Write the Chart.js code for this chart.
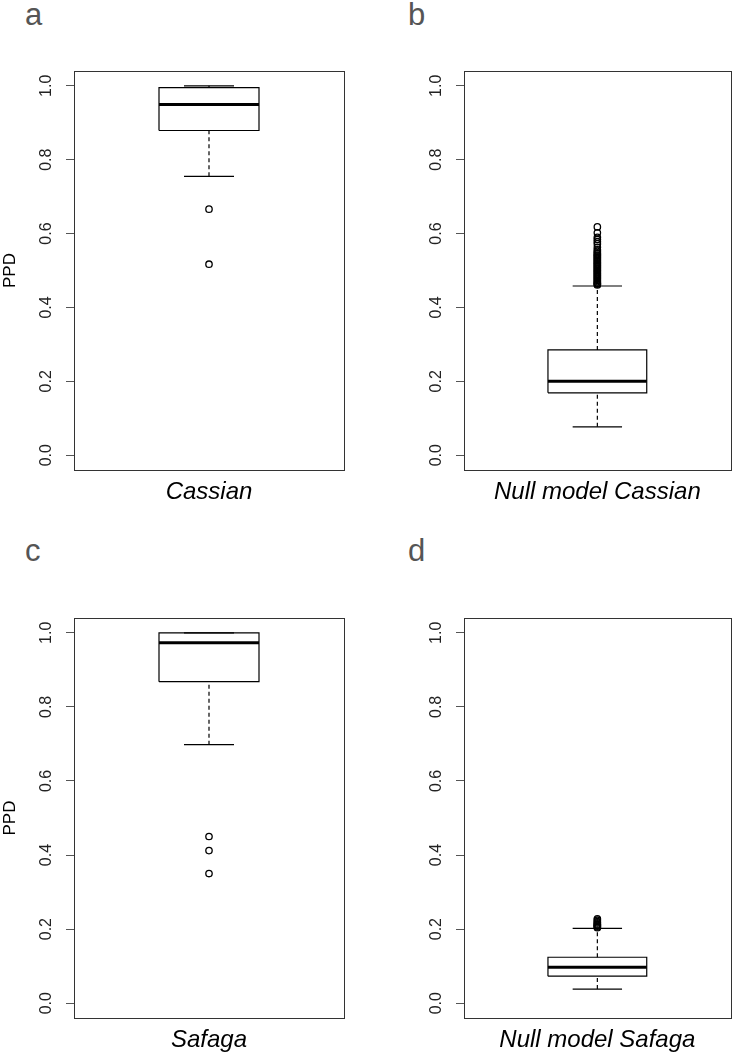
<!DOCTYPE html>
<html>
<head>
<meta charset="utf-8">
<script src="https://cdn.jsdelivr.net/npm/chart.js@4.4.1/dist/chart.umd.min.js"></script>
<style>
  html, body { margin: 0; padding: 0; background: #fff; }
  #wrap { position: relative; width: 736px; height: 1058px; }
  canvas { position: absolute; }
  .letter { position: absolute; font-family: 'Liberation Sans', Arial, sans-serif; font-size: 31px; line-height: 30px; color: #555; }
</style>
</head>
<body>
<div id="wrap">
  <div class="letter" style="left:25px;top:0px">a</div>
  <div class="letter" style="left:408px;top:0px">b</div>
  <div class="letter" style="left:25px;top:536px">c</div>
  <div class="letter" style="left:408px;top:536px">d</div>
  <canvas id="pa" width="368" height="529" style="left:0;top:0"></canvas>
  <canvas id="pb" width="368" height="529" style="left:368px;top:0"></canvas>
  <canvas id="pc" width="368" height="529" style="left:0;top:529px"></canvas>
  <canvas id="pd" width="368" height="529" style="left:368px;top:529px"></canvas>
</div>
<script>
// box plot summaries, one entry per panel (a, b, c, d)
const categories = ['Cassian', 'Null model Cassian', 'Safaga', 'Null model Safaga'];
const lowerWhisker = [0.755, 0.077, 0.698, 0.038];
const q1 = [0.879, 0.169, 0.868, 0.073];
const median = [0.949, 0.200, 0.973, 0.097];
const q3 = [0.995, 0.285, 1.0, 0.124];
const upperWhisker = [1.0, 0.458, 1.0, 0.202];

const outliersCassian = [0.666, 0.517];
const outliersNullCassian = [0.461, 0.463, 0.465, 0.467, 0.470, 0.473, 0.476, 0.479, 0.482, 0.485, 0.488,
  0.491, 0.494, 0.497, 0.500, 0.503, 0.506, 0.509, 0.512, 0.515, 0.518, 0.521, 0.524, 0.527,
  0.530, 0.533, 0.536, 0.539, 0.542, 0.545, 0.548, 0.552, 0.556, 0.563, 0.572, 0.578, 0.584,
  0.590, 0.602, 0.618];
const outliersSafaga = [0.450, 0.412, 0.350];
const outliersNullSafaga = [0.204, 0.206, 0.208, 0.210, 0.212, 0.214, 0.217, 0.220, 0.224, 0.228];

const yTicks = [0, 0.2, 0.4, 0.6, 0.8, 1.0];

const FONT = "'Liberation Sans', Arial, sans-serif";

// box centre on the x scale and half widths (R boxwex 0.4, staplewex 0.5)
const XC = 1, BOX_HW = 0.2, CAP_HW = 0.1;

const framePlugin = {
  id: 'frame',
  afterDraw(chart) {
    const a = chart.chartArea, ctx = chart.ctx;
    ctx.save();
    ctx.strokeStyle = '#333';
    ctx.lineWidth = 1;
    ctx.strokeRect(Math.round(a.left) + 0.5, Math.round(a.top) + 0.5,
      Math.round(a.right - a.left), Math.round(a.bottom - a.top));
    ctx.restore();
  }
};

function seg(points, width, dash) {
  return {
    data: points, showLine: true, pointRadius: 0, borderColor: '#000',
    borderWidth: width, borderDash: dash || [], fill: false
  };
}

function makePanel(id, i, outliers, g, showTitle) {
  const datasets = [
    seg([{x: XC - BOX_HW, y: q1[i]}, {x: XC + BOX_HW, y: q1[i]}, {x: XC + BOX_HW, y: q3[i]},
         {x: XC - BOX_HW, y: q3[i]}, {x: XC - BOX_HW, y: q1[i]}], 1.2),
    seg([{x: XC - BOX_HW, y: median[i]}, {x: XC + BOX_HW, y: median[i]}], 3),
    seg([{x: XC, y: q3[i]}, {x: XC, y: upperWhisker[i]}], 1.2, [4, 3]),
    seg([{x: XC, y: lowerWhisker[i]}, {x: XC, y: q1[i]}], 1.2, [4, 3]),
    seg([{x: XC - CAP_HW, y: upperWhisker[i]}, {x: XC + CAP_HW, y: upperWhisker[i]}], 1.2),
    seg([{x: XC - CAP_HW, y: lowerWhisker[i]}, {x: XC + CAP_HW, y: lowerWhisker[i]}], 1.2),
    {
      data: outliers.map(v => ({x: XC, y: v})), showLine: false,
      pointRadius: 3.2, pointStyle: 'circle', pointBackgroundColor: 'rgba(255,255,255,0)',
      pointBorderColor: '#000', pointBorderWidth: 1.3
    }
  ];

  return new Chart(document.getElementById(id), {
    type: 'scatter',
    data: { datasets },
    plugins: [framePlugin],
    options: {
      responsive: false,
      animation: false,
      events: [],
      layout: { padding: { left: 0, top: g.top, right: g.right, bottom: 0 } },
      plugins: { legend: { display: false }, tooltip: { enabled: false } },
      scales: {
        x: {
          type: 'linear', min: 0.46, max: 1.54,
          afterFit: s => { s.height = g.bottom; },
          afterBuildTicks: s => { s.ticks = [{ value: XC }]; },
          border: { display: false },
          grid: { display: false },
          ticks: {
            padding: 0, color: '#000', maxRotation: 0, autoSkip: false,
            font: { family: FONT, size: 24, style: 'italic' },
            callback: () => categories[i]
          }
        },
        y: {
          min: -0.04, max: 1.04,
          afterFit: s => { s.width = g.left; },
          afterBuildTicks: s => { s.ticks = yTicks.map(v => ({ value: v })); },
          border: { display: false },
          grid: { drawOnChartArea: false, drawTicks: true, tickLength: 8, color: '#555' },
          ticks: {
            minRotation: 90, maxRotation: 90, crossAlign: 'center', padding: 8,
            color: '#222', font: { family: FONT, size: 16 },
            callback: v => v.toFixed(1)
          },
          title: {
            display: showTitle, text: 'PPD', color: '#000',
            padding: 0, font: { family: FONT, size: 17 }
          }
        }
      }
    }
  });
}

makePanel('pa', 0, outliersCassian, { left: 74, top: 71, right: 24, bottom: 59 }, true);
makePanel('pb', 1, outliersNullCassian, { left: 96, top: 71, right: 3, bottom: 59 }, false);
makePanel('pc', 2, outliersSafaga, { left: 74, top: 89, right: 24, bottom: 40 }, true);
makePanel('pd', 3, outliersNullSafaga, { left: 96, top: 89, right: 3, bottom: 40 }, false);
</script>
</body>
</html>
